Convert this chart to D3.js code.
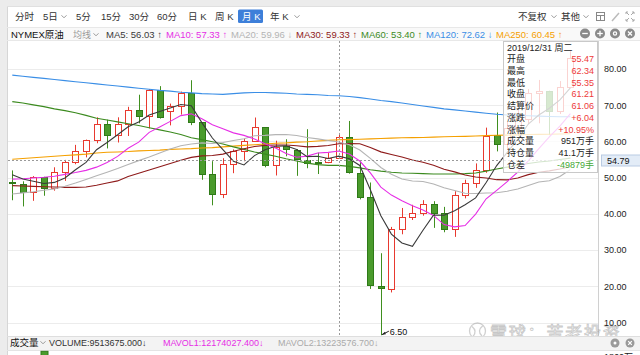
<!DOCTYPE html>
<html><head><meta charset="utf-8">
<script src="https://cdn.jsdelivr.net/npm/d3@7"></script>
<style>
html,body{margin:0;padding:0;background:#fff;overflow:hidden}
svg{display:block}
text{font-family:"Liberation Sans",Arial,"Noto Sans CJK SC",sans-serif;}
</style></head><body>
<svg id="chart" width="640" height="355"></svg>
<script>
// ---------- DATA ----------
const months = ['2017-05','2017-06','2017-07','2017-08','2017-09','2017-10','2017-11','2017-12',
'2018-01','2018-02','2018-03','2018-04','2018-05','2018-06','2018-07','2018-08','2018-09','2018-10','2018-11','2018-12',
'2019-01','2019-02','2019-03','2019-04','2019-05','2019-06','2019-07','2019-08','2019-09','2019-10','2019-11','2019-12',
'2020-01','2020-02','2020-03','2020-04','2020-05','2020-06','2020-07','2020-08','2020-09','2020-10','2020-11','2020-12',
'2021-01','2021-02','2021-03','2021-04','2021-05','2021-06','2021-07','2021-08','2021-09','2021-10'];
const opens = [48.9,48.32,46.04,50.17,47.23,51.67,54.38,57.4,60.42,64.73,
61.64,64.94,68.57,67.04,74.15,68.3,69.8,73.25,65.31,50.93,
45.41,53.79,57.22,60.14,63.91,53.5,58.8,57.6,54.8,54.2,
54.2,55.47,61.18,51.36,44.76,20.07,19.16,35.9,39.27,40.27,
42.61,40.22,35.79,45.34,48.52,52.2,61.64,59.16,63.58,66.32,
73.47,73.95,68.5,75.03];
const highs = [52.0,48.99,50.43,50.22,52.86,54.9,59.05,60.51,66.66,66.0,
66.66,69.56,72.9,74.46,75.27,70.44,73.77,76.9,65.31,54.55,
55.37,57.81,60.73,66.6,63.95,60.2,60.6,57.9,63.38,56.9,
56.8,62.34,65.65,54.7,48.66,29.13,36.4,41.63,42.5,43.78,
43.5,41.93,46.26,49.43,53.93,63.81,67.98,65.47,68.87,74.45,
76.98,74.0,76.67,84.9];
const lows = [43.76,42.05,43.6,45.0,46.4,49.1,53.7,55.6,59.5,58.07,
59.7,61.5,65.0,63.59,66.3,64.43,67.41,64.5,49.41,42.36,
44.35,51.23,54.52,59.86,52.86,50.6,55.9,50.5,52.6,51.0,
54.0,55.35,51.09,44.0,19.27,6.5,18.3,34.36,38.3,39.5,
36.13,34.92,33.64,44.28,47.18,51.34,57.25,57.63,61.56,64.75,
65.01,61.74,67.58,74.96];
const closes = [48.4,46.04,50.17,47.23,51.67,54.38,57.4,60.42,64.73,61.64,
64.94,68.57,67.04,74.15,66.7,69.8,73.25,65.31,50.93,45.41,
53.79,57.22,60.14,63.91,53.5,58.47,57.9,55.1,54.1,54.0,
55.3,61.21,51.56,44.76,20.48,19.4,35.9,39.27,40.27,42.61,
40.22,35.79,45.34,48.52,52.2,61.5,59.16,63.58,66.32,73.47,
73.95,68.5,75.03,83.0];
const volumes = [1420,1510,1380,1850,1600,1450,1390,1320,1560,1480,
1290,1370,1410,1300,1350,1260,1180,1420,1390,1450,
1380,1210,1150,1240,1330,1180,1090,1160,1230,1050,
1010,951,1210,1190,1480,1320,1100,1050,880,910,
960,1020,1080,990,1110,1150,1180,1020,1060,1000,
1090,1050,980,1040];
const ma5 = [50.8,49.6,49.0,48.4,48.69,49.9,52.17,54.22,57.72,59.71,
61.83,64.06,65.38,67.27,68.28,69.25,70.19,69.84,65.2,60.94,
57.74,54.53,53.5,56.09,57.71,58.65,58.78,57.78,55.81,55.91,
55.28,55.94,55.23,53.37,46.66,39.48,34.42,31.96,31.06,35.49,
39.65,39.63,40.85,42.5,44.41,48.67,53.34,56.99,60.55,64.81,
67.3,69.16,71.45,74.79];
const ma10 = [49.6,49.7,49.9,50.1,50.4,50.9,51.4,52.0,52.9,54.2,
55.87,58.12,59.8,62.5,64.0,65.54,67.13,67.61,66.24,64.61,
63.5,62.36,61.67,60.65,59.33,58.2,56.66,55.64,55.95,56.81,
56.97,57.36,56.51,54.59,51.29,47.38,45.18,43.6,42.22,41.08,
39.57,37.03,36.41,36.78,39.95,44.16,46.49,48.92,51.53,54.61,
57.99,61.25,64.22,67.67];
const ma20 = [45.5,45.8,46.1,46.5,46.9,47.6,48.5,49.5,50.5,51.5,
52.5,53.6,54.7,55.7,56.8,57.9,58.8,59.3,59.6,59.41,
59.69,60.24,60.74,61.58,61.67,61.87,61.9,61.63,61.1,60.71,
60.24,59.86,59.09,57.62,55.31,52.79,50.92,49.62,49.09,48.95,
48.27,47.2,46.46,45.69,45.62,45.77,45.84,46.26,46.88,47.85,
48.78,49.14,50.32,52.23];
const ma30 = [47.8,47.7,47.6,47.5,47.4,47.3,47.3,47.4,47.9,48.5,
49.1,50.3,51.2,52.1,53.0,53.9,54.8,55.6,56.0,56.1,
56.5,57.3,58.0,58.6,58.9,59.0,59.0,58.8,58.5,58.64,
58.87,59.37,59.42,59.34,58.3,57.12,56.39,55.69,54.87,54.24,
53.41,52.32,51.6,50.74,50.19,49.91,49.44,49.38,49.9,50.83,
51.51,51.88,52.38,53.0];
const ma60 = [71.0,70.6,70.1,69.6,69.0,68.5,67.9,67.2,66.4,65.9,
65.4,64.9,64.4,63.8,63.2,62.6,61.9,61.0,60.5,59.9,
59.3,58.5,57.8,57.1,56.5,55.9,55.2,54.6,54.0,53.6,
53.4,53.4,53.1,52.7,52.2,51.8,51.5,51.3,51.2,51.1,
51.0,51.0,51.0,51.1,51.3,51.8,52.4,52.9,53.4,53.9,
54.3,54.6,55.0,55.4];
const ma120 = [78.3,78.0,77.7,77.4,77.1,76.8,76.5,76.2,75.9,75.6,
75.3,75.0,74.7,74.4,74.1,73.9,73.6,73.4,73.2,73.1,
73.0,73.2,73.4,73.5,73.5,73.4,73.3,73.1,73.0,72.9,
72.7,72.62,72.4,72.1,71.7,71.3,71.0,70.6,70.2,69.8,
69.4,69.0,68.7,68.4,68.1,67.8,67.5,67.3,67.2,67.1,
67.0,66.9,66.8,66.8];
const ma250 = [55.1,55.3,55.5,55.7,55.9,56.1,56.3,56.5,56.8,57.0,
57.1,57.2,57.4,57.5,57.6,57.8,57.9,58.0,58.2,58.3,
58.5,58.7,58.9,59.1,59.3,59.5,59.6,59.8,59.9,60.1,
60.3,60.45,60.5,60.6,60.7,60.8,60.9,61.0,61.05,61.1,
61.2,61.3,61.35,61.4,61.5,61.6,61.7,61.75,61.8,61.9,
61.95,62.0,62.05,62.1];
const yTicks = [10,20,30,40,50,60,70,80];
const periodTabs = ['分时','5日','5分','15分','30分','60分','日 K','周 K','月 K','年 K'];
const maNames = ['MA5','MA10','MA20','MA30','MA60','MA120','MA250'];
const maLegendValues = ['56.03','57.33','59.96','59.33','53.40','72.62','60.45'];
const maLegendArrows = ['↑','↑','↓','↑','↑','↓','↑'];
const tipTitle = '2019/12/31 周二';
const tipLabels = ['开盘','最高','最低','收盘','结算价','涨跌','涨幅','成交量','持仓量','仓差'];
const tipValues = ['55.47','62.34','55.35','61.21','61.06','+6.04','+10.95%','951万手','41.1万手','-49879手'];
const hoverIndex = 31, hoverPrice = 54.79;
const volLegend = ['VOLUME:9513675.000↓','MAVOL1:12174027.400↓','MAVOL2:13223576.700↓'];

// ---------- STYLE ----------
const RED = '#e8392f', GREEN_F = '#4a9b2c', GREEN_S = '#2f7a18';
const maColors = ['#3a3a3a','#e62ee6','#b4b4b4','#8e1a1a','#3b8a1e','#3a8ee6','#f5a000'];
const PL = 7, PR = 598, PT = 41, PB = 336;

const svg = d3.select('#chart');
const x = d3.scaleLinear().domain([0, 46]).range([12.3, 496.7]);
const y = d3.scaleLinear().domain([10, 80]).range([322.5, 69]);
const yv = d3.scaleLinear().domain([0, 1860]).range([412, 351]);

// background & panels
svg.append('rect').attr('width',640).attr('height',355).attr('fill','#ececec');
svg.append('rect').attr('x',PL).attr('y',6).attr('width',640-PL).attr('height',349).attr('fill','#fff');
svg.append('line').attr('x1',PL+0.5).attr('x2',PL+0.5).attr('y1',6).attr('y2',355).attr('stroke','#d6d6d6');
svg.append('line').attr('x1',PL).attr('x2',640).attr('y1',6.5).attr('y2',6.5).attr('stroke','#e0e0e0');
// row 2 band
svg.append('rect').attr('x',PL+1).attr('y',27).attr('width',640-PL).attr('height',14).attr('fill','#f9f9f9');
svg.append('line').attr('x1',PL).attr('x2',640).attr('y1',27.5).attr('y2',27.5).attr('stroke','#e8e8e8');
svg.append('line').attr('x1',PL).attr('x2',640).attr('y1',40.5).attr('y2',40.5).attr('stroke','#e8e8e8');

function chevron(cx, cy, col){
  svg.append('path').attr('d',`M${cx-2.5},${cy-1.2}L${cx},${cy+1.3}L${cx+2.5},${cy-1.2}`)
    .attr('fill','none').attr('stroke',col||'#999').attr('stroke-width',1);
}
function txt(t, tx, ty, opts){
  opts = opts||{};
  return svg.append('text').attr('x',tx).attr('y',ty).text(t)
    .attr('font-size',opts.size||9).attr('fill',opts.fill||'#333')
    .attr('text-anchor',opts.anchor||'start').attr('font-weight',opts.weight||'normal');
}

// Row 1: period tabs
const tabX = [15,43,76,101,129,157,188,215,242,270];
periodTabs.forEach((t,i)=>{
  if (i===8){
    svg.append('rect').attr('x',238).attr('y',9.5).attr('width',25).attr('height',13.5).attr('rx',1.5).attr('fill','#3d7fd9');
    txt(t, tabX[i], 19.5, {fill:'#fff', size:9.5});
  } else txt(t, tabX[i], 19.5, {size:9.5});
});
chevron(64,16.5); chevron(297,16.5);
txt('不复权',518,19.5,{size:9.5}); chevron(554,16.5);
txt('其他',561,19.5,{size:9.5}); chevron(586,16.5);
// toolbar icons
svg.append('rect').attr('x',596.5).attr('y',12.5).attr('width',8).attr('height',8).attr('fill','none').attr('stroke','#888');
svg.append('line').attr('x1',596.5).attr('x2',604.5).attr('y1',15.5).attr('y2',15.5).attr('stroke','#888');
svg.append('line').attr('x1',600.5).attr('x2',600.5).attr('y1',15.5).attr('y2',20.5).attr('stroke','#888');
svg.append('line').attr('x1',612).attr('x2',619).attr('y1',21).attr('y2',13).attr('stroke','#bbb').attr('stroke-width',1.5);
[[626,12,1,1],[634,12,-1,1],[626,21,1,-1],[634,21,-1,-1]].forEach(([a,b,dx,dy])=>{
  svg.append('path').attr('d',`M${a},${b+2*dy}L${a},${b}L${a+2*dx},${b}M${a},${b}L${a+3*dx},${b+3*dy}`).attr('fill','none').attr('stroke','#aaa');
});

// Row 2: legend
txt('NYMEX原油', 11, 37.5, {size:9.5, fill:'#111'});
txt('均线', 73, 37.5, {fill:'#999'}); chevron(96,34.5);
const maX = [106,166,231,296,361,426,496];
maNames.forEach((n,i)=>{
  txt(`${n}: ${maLegendValues[i]} ${maLegendArrows[i]}`, maX[i], 37.5, {fill:maColors[i], size:9.5});
});
[585,600,615,630].forEach((cx,k)=>{
  svg.append('circle').attr('cx',cx).attr('cy',33.5).attr('r',5).attr('fill','#8a8a8a');
  const g = svg.append('g').attr('stroke','#fff').attr('stroke-width',1.3);
  if(k===0) g.append('line').attr('x1',cx-2.8).attr('x2',cx+2.8).attr('y1',33.5).attr('y2',33.5);
  if(k===1){ g.append('line').attr('x1',cx-2.8).attr('x2',cx+2.8).attr('y1',33.5).attr('y2',33.5);
             g.append('line').attr('x1',cx).attr('x2',cx).attr('y1',30.7).attr('y2',36.3);}
  if(k===2){ g.append('circle').attr('cx',cx).attr('cy',33.5).attr('r',1.6).attr('fill','none'); }
  if(k===3){ g.append('line').attr('x1',cx-2).attr('x2',cx+2).attr('y1',31.5).attr('y2',35.5);
             g.append('line').attr('x1',cx+2).attr('x2',cx-2).attr('y1',31.5).attr('y2',35.5);}
});

// grid
const grid = svg.append('g');
yTicks.forEach(t=>{
  grid.append('line').attr('x1',PL+1).attr('x2',PR).attr('y1',Math.round(y(t))+0.5).attr('y2',Math.round(y(t))+0.5)
    .attr('stroke','#ececec');
});
// axis separator
svg.append('line').attr('x1',PR+0.5).attr('x2',PR+0.5).attr('y1',PT).attr('y2',PB).attr('stroke','#d0d0d0');

// watermark (behind axis labels)
const wm = svg.append('g').attr('opacity',0.55);
wm.append('circle').attr('cx',477.5).attr('cy',331).attr('r',8).attr('fill','none').attr('stroke','#aaa').attr('stroke-width',1.3);
wm.append('path').attr('d','M472,326.5 Q477.5,331 473,336.5 M483,325.5 Q476.5,331 482,336').attr('fill','none').attr('stroke','#aaa').attr('stroke-width',1.3);
wm.append('text').attr('x',490).attr('y',339).text('雪球：苦老投资').attr('font-size',17)
  .attr('letter-spacing',1.8).attr('fill','#fff').attr('stroke','#9a9a9a').attr('stroke-width',0.8);

// y axis labels
const yAxis = d3.axisRight(y).tickValues(yTicks).tickFormat(d3.format('.2f')).tickSize(0).tickPadding(0);
const ya = svg.append('g').attr('transform',`translate(${PR+6},0)`).call(yAxis);
ya.select('.domain').remove();
ya.selectAll('text').attr('font-size',9).attr('fill','#222')
  .attr('font-family','"Liberation Sans",Arial,sans-serif');

// clip
svg.append('defs').append('clipPath').attr('id','plot').append('rect')
  .attr('x',PL+1).attr('y',PT).attr('width',PR-PL-1).attr('height',PB-PT);
const plot = svg.append('g').attr('clip-path','url(#plot)');

// candles
const idx = d3.range(closes.length);
const cg = plot.append('g');
idx.forEach(i=>{
  const up = closes[i] >= opens[i];
  const cx = Math.round(x(i)) + 0.5;
  const top = Math.round(y(Math.max(opens[i],closes[i])));
  const bot = Math.round(y(Math.min(opens[i],closes[i])));
  const col = up ? RED : GREEN_S;
  cg.append('line').attr('x1',cx).attr('x2',cx).attr('y1',y(highs[i])).attr('y2',y(lows[i]))
    .attr('stroke', up ? RED : '#3f8f1f').attr('stroke-width',1);
  cg.append('rect').attr('x',cx-3).attr('y',top+0.5).attr('width',6).attr('height',Math.max(bot-top,1))
    .attr('fill', up ? '#fff' : GREEN_F).attr('stroke',col).attr('stroke-width',1);
});

// MA lines
const mas = [ma250, ma120, ma60, ma30, ma20, ma10, ma5];
const masCol = [maColors[6],maColors[5],maColors[4],maColors[3],maColors[2],maColors[1],maColors[0]];
const lineGen = d3.line().x((d,i)=>x(i)).y(d=>y(d));
mas.forEach((arr,k)=>{
  plot.append('path').attr('d',lineGen(arr)).attr('fill','none')
    .attr('stroke',masCol[k]).attr('stroke-width',1.1);
});

// crosshair
const hx = Math.round(x(hoverIndex))+0.5, hy = Math.round(y(hoverPrice))+0.5;
plot.append('line').attr('x1',hx).attr('x2',hx).attr('y1',PT).attr('y2',PB)
  .attr('stroke','#9a9a9a').attr('stroke-dasharray','2,2');
plot.append('line').attr('x1',PL+1).attr('x2',PR).attr('y1',hy).attr('y2',hy)
  .attr('stroke','#9a9a9a').attr('stroke-dasharray','2,2');
svg.append('rect').attr('x',601.5).attr('y',hy-5.5).attr('width',40).attr('height',11)
  .attr('fill','#e3ecf7').attr('stroke','#b9cbe3');
txt(d3.format('.2f')(hoverPrice), 607, hy+3.3, {fill:'#111'});

// min annotation
const mi = d3.minIndex(lows);
const ax = x(mi), ay = y(lows[mi]);
svg.append('path').attr('d',`M${ax+1},${ay-0.5}L${ax+8},${ay-4}`).attr('stroke','#222').attr('fill','none');
svg.append('path').attr('d',`M${ax+1},${ay-0.5}L${ax+4},${ay-3.5}L${ax+5},${ay-1}Z`).attr('fill','#222');
txt(d3.format('.2f')(lows[mi]), ax+9, ay-0.5, {fill:'#111'});

// volume header
svg.append('rect').attr('x',PL+1).attr('y',336).attr('width',640-PL).attr('height',14).attr('fill','#f3f3f3');
svg.append('line').attr('x1',PL).attr('x2',640).attr('y1',336.5).attr('y2',336.5).attr('stroke','#dedede');
svg.append('line').attr('x1',PL).attr('x2',640).attr('y1',350.5).attr('y2',350.5).attr('stroke','#e4e4e4');
txt('成交量', 10, 345.5, {fill:'#111', size:9.5}); chevron(43,342.5);
txt(volLegend[0], 49, 345.5, {fill:'#333'});
txt(volLegend[1], 163, 345.5, {fill:maColors[1]});
txt(volLegend[2], 278, 345.5, {fill:'#aaa'});
[615,630].forEach((cx,k)=>{
  svg.append('circle').attr('cx',cx).attr('cy',343).attr('r',4.5).attr('fill','#9a9a9a');
  if(k===1){
    svg.append('path').attr('d',`M${cx-1.8},341.2L${cx+1.8},344.8M${cx+1.8},341.2L${cx-1.8},344.8`).attr('stroke','#fff').attr('stroke-width',1.2);
  } else {
    svg.append('circle').attr('cx',cx).attr('cy',343).attr('r',1.5).attr('fill','#fff');
  }
});
// volume bars (only the top of the pane is visible)
const vg = svg.append('g');
idx.forEach(i=>{
  const up = closes[i] >= opens[i];
  const top = yv(volumes[i]);
  if (top < 355) vg.append('rect').attr('x',Math.round(x(i))-3).attr('y',Math.max(top,351)).attr('width',7).attr('height',10)
    .attr('fill', up ? '#fff' : GREEN_F).attr('stroke', up ? RED : GREEN_S);
});
txt('1860万', 604, 360, {fill:'#222'});

// tooltip
const tip = svg.append('g');
tip.append('rect').attr('x',503.5).attr('y',41.5).attr('width',94).attr('height',131)
  .attr('fill','#fff').attr('fill-opacity',0.78).attr('stroke','#c9c9c9');
tip.append('text').attr('x',507).attr('y',50.5).text(tipTitle).attr('font-size',9).attr('fill','#222');
tipLabels.forEach((l,i)=>{
  const ty = 62.2 + i*11.75;
  tip.append('text').attr('x',507).attr('y',ty).text(l).attr('font-size',9).attr('fill','#222');
  let col = '#ee3a3a';
  if (i===7 || i===8) col = '#222';
  if (i===9) col = '#45a834';
  tip.append('text').attr('x',594).attr('y',ty).text(tipValues[i]).attr('font-size',9)
    .attr('fill',col).attr('text-anchor','end');
});
</script>
</body></html>
